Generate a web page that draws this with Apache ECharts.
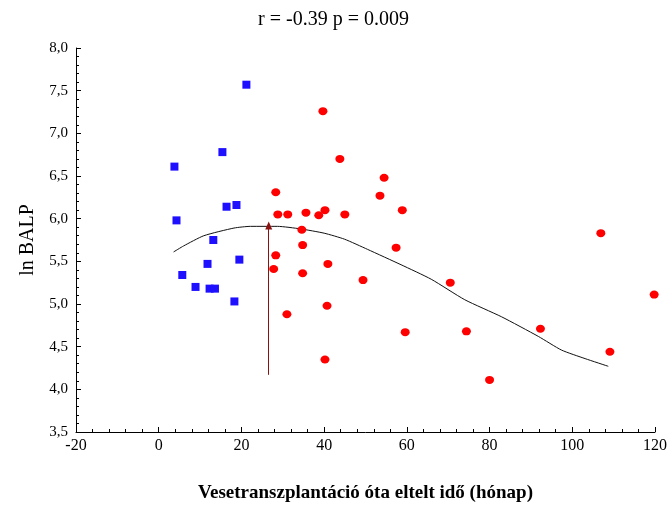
<!DOCTYPE html>
<html>
<head>
<meta charset="utf-8">
<script src="https://cdn.jsdelivr.net/npm/echarts@6/dist/echarts.min.js"></script>
<style>
  html, body { margin: 0; padding: 0; background: #fff; }
  #chart { width: 667px; height: 505px; }
</style>
</head>
<body>
<div id="chart"></div>
<script>
// group 1 (blue squares): [months, ln BALP]
const earlyPts = [
  [3.8, 6.61], [4.3, 5.98], [5.7, 5.34], [8.9, 5.20], [11.8, 5.47],
  [12.3, 5.18], [13.6, 5.18], [13.2, 5.75], [15.4, 6.78], [16.4, 6.14],
  [18.8, 6.16], [18.3, 5.03], [19.5, 5.52], [21.2, 7.57]
];

// group 2 (red circles)
const latePts = [
  [28.3, 6.31], [39.7, 7.26], [43.8, 6.70], [54.5, 6.48], [53.5, 6.27],
  [58.9, 6.10], [45.0, 6.05], [40.2, 6.10], [38.7, 6.04], [35.6, 6.07],
  [31.2, 6.05], [28.8, 6.05], [34.6, 5.87], [34.8, 5.69], [28.3, 5.57],
  [27.8, 5.41], [34.8, 5.36], [40.9, 5.47], [49.4, 5.28], [40.7, 4.98],
  [31.0, 4.88], [40.2, 4.35], [57.4, 5.66], [70.5, 5.25], [59.6, 4.67],
  [74.4, 4.68], [80.0, 4.11], [92.3, 4.71], [109.1, 4.44], [106.9, 5.83],
  [119.8, 5.11]
];

// fitted curve
const fitCurve = [
  [3.6, 5.61], [6.0, 5.68], [10.9, 5.80], [18.2, 5.89], [22.2, 5.91], [28.7, 5.91],
  [34.3, 5.88], [40.0, 5.83], [44.9, 5.76], [50.5, 5.64], [58.6, 5.46],
  [65.9, 5.29], [74.0, 5.05], [82.9, 4.85], [91.8, 4.62], [97.4, 4.46],
  [103.1, 4.36], [108.7, 4.27]
];

// arrow marking the curve maximum
const arrowFrom = [26.6, 4.17];
const arrowTo = [26.6, 5.92];

const serif = '"Liberation Serif", "DejaVu Serif", serif';

const chart = echarts.init(document.getElementById('chart'));

chart.setOption({
  animation: false,
  backgroundColor: '#fff',
  title: {
    text: 'r = -0.39 p = 0.009',
    left: 'center',
    top: 5,
    textStyle: { fontFamily: serif, fontSize: 20, fontWeight: 'normal', color: '#000' }
  },
  grid: { left: 76, right: 12, top: 48, bottom: 73, outerBoundsMode: 'none' },
  xAxis: {
    type: 'value',
    min: -20,
    max: 120,
    interval: 20,
    name: 'Vesetranszplantáció óta eltelt idő (hónap)',
    nameLocation: 'middle',
    nameGap: 52,
    nameTextStyle: { fontFamily: serif, fontSize: 19, fontWeight: 'bold', color: '#000' },
    axisLine: { onZero: false, lineStyle: { color: '#000', width: 1 } },
    axisTick: { inside: true, length: 5, lineStyle: { color: '#000' } },
    minorTick: { show: true, splitNumber: 5, length: 3, lineStyle: { color: '#000' } },
    axisLabel: { fontFamily: serif, fontSize: 16, color: '#000', margin: 6 },
    splitLine: { show: false }
  },
  yAxis: {
    type: 'value',
    min: 3.5,
    max: 8,
    interval: 0.5,
    name: 'ln BALP',
    nameLocation: 'middle',
    nameRotate: 90,
    nameGap: 38,
    nameTextStyle: { fontFamily: serif, fontSize: 20, color: '#000' },
    axisLine: { show: true, onZero: false, lineStyle: { color: '#000', width: 1 } },
    axisTick: { show: true, inside: true, length: 5, lineStyle: { color: '#000' } },
    minorTick: { show: true, splitNumber: 5, length: 3, lineStyle: { color: '#000' } },
    axisLabel: {
      fontFamily: serif, fontSize: 15, color: '#000', margin: 8,
      formatter: v => v.toFixed(1).replace('.', ',')
    },
    splitLine: { show: false }
  },
  series: [
    {
      name: 'fit',
      type: 'line',
      data: fitCurve,
      smooth: 0.2,
      showSymbol: false,
      lineStyle: { color: '#111', width: 1 },
      silent: true,
      z: 1
    },
    {
      name: 'arrow',
      type: 'line',
      data: [],
      markLine: {
        silent: true,
        symbol: ['none', 'triangle'],
        symbolSize: [7, 8],
        label: { show: false },
        lineStyle: { color: '#8b1010', width: 1, type: 'solid' },
        data: [[{ coord: arrowFrom }, { coord: arrowTo }]]
      },
      z: 2
    },
    {
      name: 'early',
      type: 'scatter',
      data: earlyPts,
      symbol: 'rect',
      symbolSize: 8,
      itemStyle: { color: '#1e0fff', opacity: 1 },
      z: 3
    },
    {
      name: 'late',
      type: 'scatter',
      data: latePts,
      symbol: 'circle',
      symbolSize: [9, 8],
      itemStyle: { color: '#ff0000', opacity: 1 },
      z: 3
    }
  ]
});
</script>
</body>
</html>
